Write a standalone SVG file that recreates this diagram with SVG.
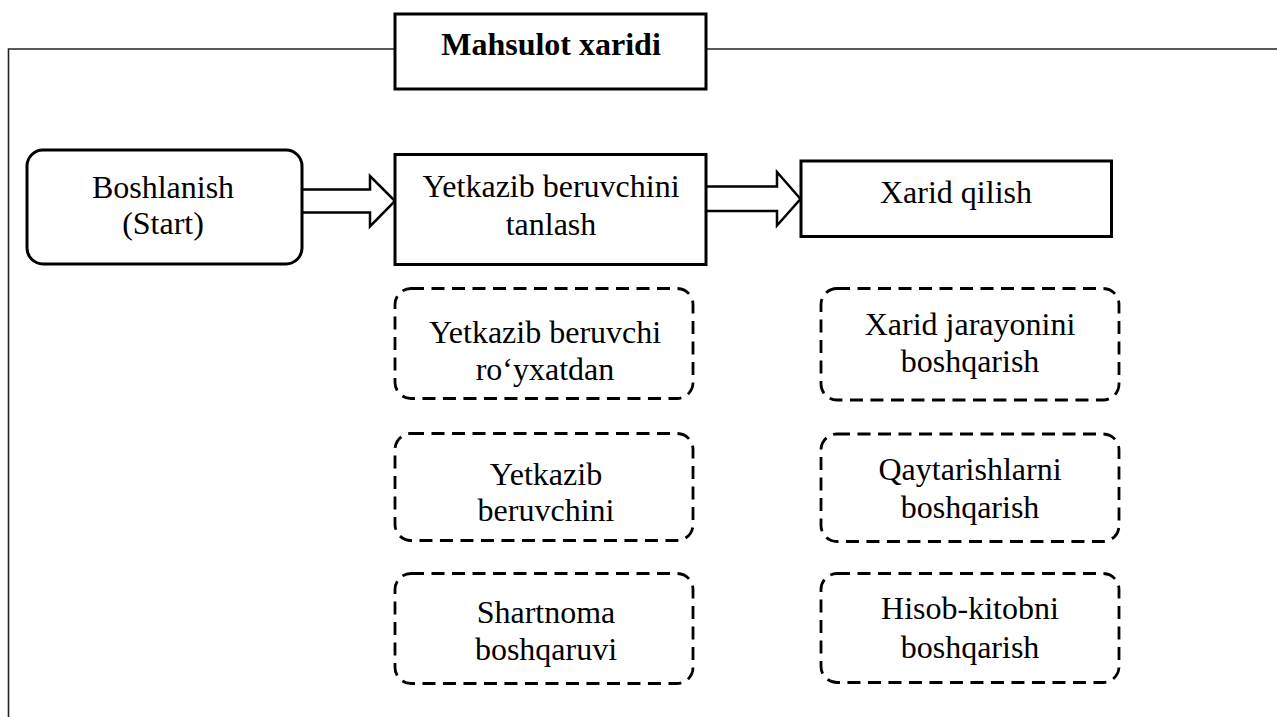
<svg xmlns="http://www.w3.org/2000/svg" width="1277" height="717" viewBox="0 0 1277 717">
<style>
  text { font-family: "Liberation Serif", "Times New Roman", serif; font-size: 32px; fill: #000; text-anchor: middle; }
  .title { font-weight: bold; font-size: 32px; }
  .solid { fill: #fff; stroke: #000; stroke-width: 3; }
  .dash { fill: #fff; stroke: #000; stroke-width: 2.8; stroke-dasharray: 13 7.5; }
  .frame { fill: none; stroke: #222; stroke-width: 1.6; }
  .blockarrow { fill: #fff; stroke: #000; stroke-width: 2.5; stroke-linejoin: miter; }
</style>
<rect x="0" y="0" width="1277" height="717" fill="#fff"/>
<g id="frame">
  <polyline class="frame" points="8.5,717 8.5,49 1277,49"/>
</g>
<g id="title">
  <rect class="solid" x="395" y="14" width="311" height="75"/>
  <text class="title" x="551" y="55">Mahsulot xaridi</text>
</g>
<g id="connectors">
  <path class="blockarrow" d="M301,189.5 L370,189.5 L370,176 L395,201 L370,226.5 L370,212.5 L301,212.5"/>
  <path class="blockarrow" d="M706,186.5 L777,186.5 L777,172 L800.5,199 L777,225.5 L777,211 L706,211"/>
</g>
<g id="start">
  <rect class="solid" x="27" y="150" width="275" height="114" rx="16" ry="16"/>
  <text x="163" y="198">Boshlanish</text>
  <text x="163" y="234">(Start)</text>
</g>
<g id="select">
  <rect class="solid" x="395" y="154.5" width="311" height="110"/>
  <text x="551" y="197">Yetkazib beruvchini</text>
  <text x="551" y="235">tanlash</text>
</g>
<g id="purchase">
  <rect class="solid" x="801" y="161" width="310.5" height="75.5"/>
  <text x="956" y="203">Xarid qilish</text>
</g>
<g id="sup-register">
  <rect class="dash" x="395" y="288.5" width="298" height="110" rx="16" ry="16"/>
  <text x="545" y="343">Yetkazib beruvchi</text>
  <text x="545" y="380">ro‘yxatdan</text>
</g>
<g id="sup-eval">
  <rect class="dash" x="395" y="433.5" width="298" height="107" rx="16" ry="16"/>
  <text x="546" y="485">Yetkazib</text>
  <text x="546" y="521">beruvchini</text>
</g>
<g id="contract">
  <rect class="dash" x="395" y="573.5" width="298" height="110" rx="16" ry="16"/>
  <text x="546" y="623">Shartnoma</text>
  <text x="546" y="660">boshqaruvi</text>
</g>
<g id="proc-mgmt">
  <rect class="dash" x="821" y="288.5" width="298" height="111.5" rx="16" ry="16"/>
  <text x="970" y="335">Xarid jarayonini</text>
  <text x="970" y="372">boshqarish</text>
</g>
<g id="returns">
  <rect class="dash" x="821" y="434" width="298" height="107.5" rx="16" ry="16"/>
  <text x="970" y="480">Qaytarishlarni</text>
  <text x="970" y="518">boshqarish</text>
</g>
<g id="accounting">
  <rect class="dash" x="821" y="573.5" width="298" height="109" rx="16" ry="16"/>
  <text x="970" y="619">Hisob-kitobni</text>
  <text x="970" y="658">boshqarish</text>
</g>
</svg>
